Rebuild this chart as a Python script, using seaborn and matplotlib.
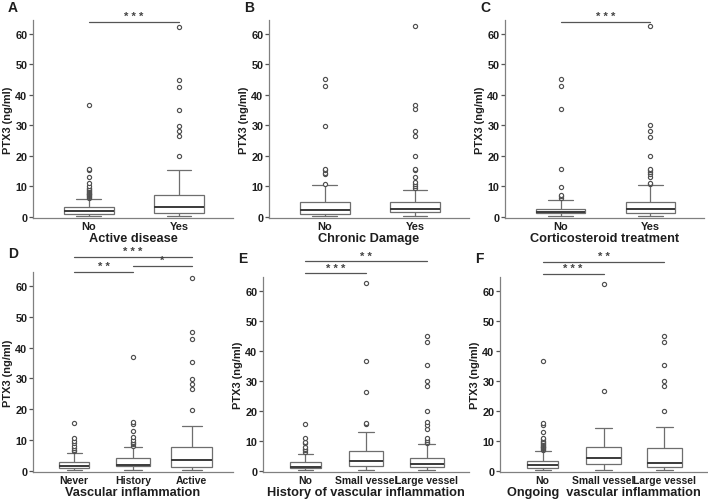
import pandas as pd
import seaborn as sns
import matplotlib.pyplot as plt

# five-number summaries: [low whisker, Q1, median, Q3, high whisker]
a_cats = ["No", "Yes"]
a_box = [[0.2, 1.0, 1.85, 3.15, 6.0], [0.2, 1.3, 3.3, 7.2, 15.4]]
a_out = [[6.3, 6.6, 6.9, 7.1, 7.4, 7.6, 7.9, 8.2, 8.5, 8.8, 9.1, 9.4, 10.2, 11.1, 12.9, 15.2, 15.7, 36.6],
         [19.9, 26.4, 28.3, 29.9, 35.2, 42.7, 45.0, 62.4]]
a_sig = [(0, 1, "***")]

b_cats = ["No", "Yes"]
b_box = [[0.2, 1.0, 2.3, 5.0, 10.5], [0.2, 1.7, 2.5, 4.7, 8.8]]
b_out = [[10.9, 14.0, 14.4, 15.2, 15.6, 29.9, 42.9, 45.1],
         [9.6, 10.2, 10.9, 11.3, 13.0, 15.3, 15.7, 20.0, 26.4, 28.3, 35.3, 36.7, 62.6]]
b_sig = []

c_cats = ["No", "Yes"]
c_box = [[0.2, 1.1, 1.6, 2.7, 5.6], [0.2, 1.3, 2.5, 5.0, 10.5]]
c_out = [[6.1, 6.8, 7.3, 9.7, 15.7, 35.3, 42.8, 45.1],
         [10.7, 11.0, 13.1, 14.2, 14.7, 15.3, 15.6, 19.9, 26.3, 28.3, 30.0, 62.6]]
c_sig = [(0, 1, "***")]

d_cats = ["Never", "History", "Active"]
d_box = [[0.2, 1.0, 1.4, 2.9, 5.7], [0.2, 1.4, 1.9, 4.0, 7.8], [0.2, 1.3, 3.4, 7.8, 14.7]]
d_out = [[6.3, 6.8, 7.4, 8.0, 9.0, 9.7, 10.8, 15.4],
         [8.2, 8.6, 9.0, 9.5, 9.9, 11.0, 13.0, 15.3, 15.9, 36.9],
         [19.9, 26.5, 28.2, 29.9, 35.3, 42.9, 45.2, 62.8]]
d_sig = [(0, 2, "***"), (1, 2, "*"), (0, 1, "**")]

e_cats = ["No", "Small vessel", "Large vessel"]
e_box = [[0.2, 1.0, 1.4, 2.9, 5.6], [0.4, 1.5, 3.3, 6.5, 12.9], [0.2, 1.2, 2.2, 4.3, 8.8]]
e_out = [[6.2, 6.8, 7.3, 8.0, 9.2, 9.7, 10.8, 15.5],
         [15.6, 16.1, 26.4, 36.7, 62.5],
         [9.2, 9.7, 10.3, 10.8, 14.1, 15.2, 16.2, 19.9, 28.2, 29.9, 35.2, 42.8, 45.0]]
e_sig = [(0, 2, "**"), (0, 1, "***")]

f_cats = ["No", "Small vessel", "Large vessel"]
f_box = [[0.2, 1.1, 1.8, 3.4, 6.7], [0.4, 2.3, 4.2, 7.8, 14.4], [0.4, 1.2, 2.5, 7.7, 14.6]]
f_out = [[6.9, 7.2, 7.5, 7.8, 8.1, 8.4, 8.7, 9.0, 9.3, 9.7, 10.1, 10.5, 11.1, 13.1, 15.3, 15.8, 36.7],
         [26.5, 62.4],
         [19.9, 28.2, 29.9, 35.3, 42.8, 45.0]]
f_sig = [(0, 2, "**"), (0, 1, "***")]

sns.set_style("ticks")
plt.rcParams['font.family'] = ['Liberation Sans', 'DejaVu Sans']
plt.rcParams['font.weight'] = 'bold'
plt.rcParams['axes.labelweight'] = 'bold'

W, H = 708, 502
fig = plt.figure(figsize=(W / 100, H / 100), dpi=100)

edge = "#6e6e6e"
txt = "#1e1e1e"

# letter, cats, box, outliers, comparisons, xlabel, axes px (l, t, r, b), box widths, bar levels
panels = [
    ("A", a_cats, a_box, a_out, a_sig, "Active disease", (33, 21, 233, 219), [0.55, 0.55], [64.1]),
    ("B", b_cats, b_box, b_out, b_sig, "Chronic Damage", (269, 21, 469, 219), [0.55, 0.55], []),
    ("C", c_cats, c_box, c_out, c_sig, "Corticosteroid treatment", (505, 21, 704, 219), [0.55, 0.55], [64.1]),
    ("D", d_cats, d_box, d_out, d_sig, "Vascular inflammation", (33, 273, 233, 473), [0.52, 0.58, 0.7], [69.5, 66.6, 64.6]),
    ("E", e_cats, e_box, e_out, e_sig, "History of vascular inflammation", (263, 278, 469, 473), [0.52, 0.56, 0.56], [69.8, 65.8]),
    ("F", f_cats, f_box, f_out, f_sig, "Ongoing  vascular inflammation", (500, 278, 707, 473), [0.52, 0.56, 0.57], [69.6, 65.6]),
]

for letter, cats, box, out, sig, xlabel, (l, t, r, b), widths, levels in panels:
    ax = fig.add_axes([l / W, 1 - b / H, (r - l) / W, (b - t) / H])
    box_df = pd.DataFrame([(c, v) for c, vals in zip(cats, box) for v in vals], columns=["group", "ptx3"])
    out_df = pd.DataFrame([(c, v) for c, vals in zip(cats, out) for v in vals], columns=["group", "ptx3"])

    for c, w in zip(cats, widths):
        sns.boxplot(data=box_df[box_df.group == c], x="group", y="ptx3", order=cats,
                    whis=(0, 100), showfliers=False, width=w, color="white",
                    linecolor=edge, linewidth=0.9,
                    medianprops=dict(color="#3a3a3a", linewidth=1.4), ax=ax)
    sns.stripplot(data=out_df, x="group", y="ptx3", order=cats, jitter=False,
                  size=3.0, color="white", edgecolor="#505050", linewidth=0.85, ax=ax)

    two = len(cats) == 2
    ax.set_xlim(-0.62 if two else -0.7, len(cats) - 1 + (0.6 if two else 0.7))
    ax.set_ylim(-0.4, 64.6)
    ax.set_yticks([0, 10, 20, 30, 40, 50, 60])
    ax.set_xticks(range(len(cats)))
    ax.set_xticklabels(cats)
    ax.tick_params(axis='x', length=0, pad=2.5, labelsize=7.9 if two else 7.5, colors=txt)
    ax.tick_params(axis='y', length=3, width=0.9, pad=1, labelsize=7.8, color="#555555", labelcolor=txt)
    ax.set_ylabel("PTX3 (ng/ml)", fontsize=7.9, color=txt, labelpad=1.5)
    ax.set_xlabel(xlabel, fontsize=9.2, color=txt, labelpad=0.5)
    sns.despine(ax=ax)
    for s in ["left", "bottom"]:
        ax.spines[s].set_color("#808080")
        ax.spines[s].set_linewidth(0.9)

    for (i, j, stars), yv in zip(sig, levels):
        ax.plot([i, j], [yv, yv], color="#555555", lw=0.9, clip_on=False)
        ax.text((i + j) / 2, yv + 0.2, " ".join(stars), ha="center", va="bottom", fontsize=8,
                color="#444444", clip_on=False)

    fig.text((l - 25) / W, 1 - (t - 13) / H if t < 100 else 1 - (t - 19) / H, letter,
             fontsize=10, fontweight="bold", color=txt, ha="left", va="center")

fig.savefig("out.png", dpi=100, facecolor="white")
